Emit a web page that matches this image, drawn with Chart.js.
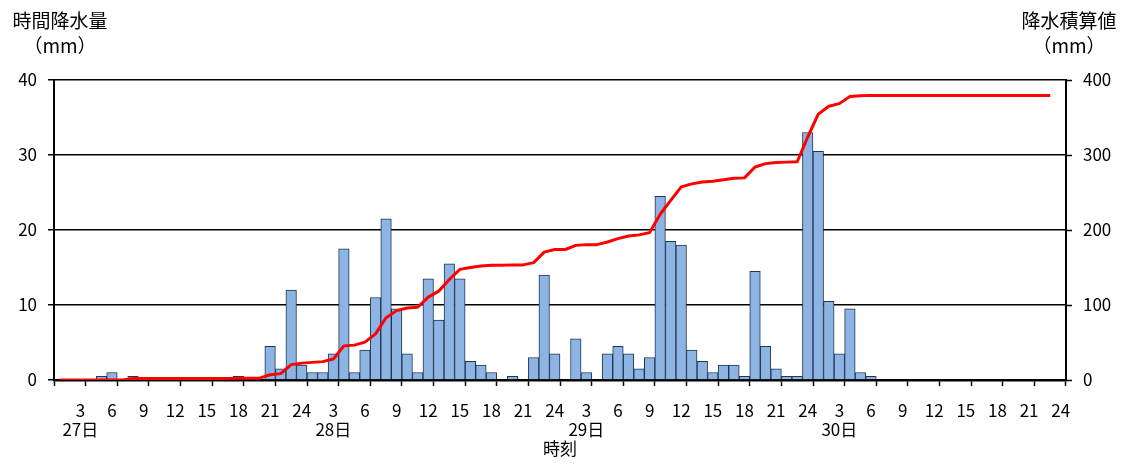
<!DOCTYPE html>
<html lang="ja">
<head>
<meta charset="utf-8">
<title>時間降水量と降水積算値</title>
<script src="https://cdn.jsdelivr.net/npm/chart.js@4"></script>
<style>
    body { margin: 0; background: #fff; }
    #wrap { width: 1126px; height: 464px; }
</style>
</head>
<body>
<div id="wrap"><canvas id="rain" width="1126" height="464"></canvas></div>
<script>
const FONT = '"Noto Sans CJK JP", "Noto Sans", sans-serif';

// 27日1時 〜 30日24時 の毎時データ
const days = ['27日', '28日', '29日', '30日'];
const hours = [1, 2, 3, 4, 5, 6, 7, 8, 9, 10, 11, 12, 13, 14, 15, 16, 17, 18, 19, 20, 21, 22, 23, 24];

// 時間降水量 (mm)
const hourlyRain = [
    0, 0, 0, 0, 0.5, 1, 0, 0.5, 0, 0, 0, 0, 0, 0, 0, 0, 0, 0.5, 0, 0, 4.5, 1.5, 12, 2,
    1, 1, 3.5, 17.5, 1, 4, 11, 21.5, 9.5, 3.5, 1, 13.5, 8, 15.5, 13.5, 2.5, 2, 1, 0, 0.5, 0, 3, 14, 3.5,
    0, 5.5, 1, 0, 3.5, 4.5, 3.5, 1.5, 3, 24.5, 18.5, 18, 4, 2.5, 1, 2, 2, 0.5, 14.5, 4.5, 1.5, 0.5, 0.5, 33,
    30.5, 10.5, 3.5, 9.5, 1, 0.5, 0, 0, 0, 0, 0, 0, 0, 0, 0, 0, 0, 0, 0, 0, 0, 0, 0, 0
];

// 降水積算値 (mm)
const totalRain = [
    0, 0, 0, 0, 0, 0, 0, 2, 2, 2, 2, 2, 2, 2, 2, 2, 2, 2.5, 2.5, 2.5, 7, 8.5, 20.5, 22.5,
    23.5, 24.5, 28, 45.5, 46.5, 50.5, 61.5, 83, 92.5, 96, 97, 110.5, 118.5, 134, 147.5, 150, 152, 153, 153, 153.5, 153.5, 156.5, 170.5, 174,
    174, 179.5, 180.5, 180.5, 184, 188.5, 192, 193.5, 196.5, 221, 239.5, 257.5, 261.5, 264, 265, 267, 269, 269.5, 284, 288.5, 290, 290.5, 291, 324,
    354.5, 365, 368.5, 378, 379, 379.5, 379.5, 379.5, 379.5, 379.5, 379.5, 379.5, 379.5, 379.5, 379.5, 379.5, 379.5, 379.5, 379.5, 379.5, 379.5, 379.5, 379.5, null
];

const leftTicks = [0, 10, 20, 30, 40];
const rightTicks = [0, 100, 200, 300, 400];

const labels = days.flatMap(d => hours.map(h => d + h + '時'));

// 軸の上に置く見出し
const axisHeads = {
    id: 'axisHeads',
    afterDraw(chart) {
        const ctx = chart.ctx;
        ctx.save();
        ctx.fillStyle = '#000';
        ctx.font = '19px ' + FONT;
        ctx.textAlign = 'center';
        ctx.textBaseline = 'middle';
        ctx.fillText('時間降水量', 60, 21);
        ctx.fillText('（mm）', 60, 46);
        ctx.fillText('降水積算値', 1069, 21);
        ctx.fillText('（mm）', 1069, 46);
        ctx.restore();
    }
};

function hourTick(value, index) {
    const h = hours[index % 24];
    if (h % 3 !== 0) return '';
    if (h === 3) return [String(h), days[Math.floor(index / 24)]];
    return String(h);
}

function every3(ctx) {
    if (ctx.index === undefined) return '#000';
    return ctx.index % 3 === 0 ? '#000' : 'rgba(0,0,0,0)';
}

function displayChart() {
    const ctx = document.getElementById('rain').getContext('2d');
    new Chart(ctx, {
        type: 'bar',
        data: {
            labels: labels,
            datasets: [{
                type: 'line',
                label: '降水積算値',
                data: totalRain,
                yAxisID: 'y2',
                borderColor: '#ff0000',
                borderWidth: 3,
                pointRadius: 0,
                tension: 0,
                borderJoinStyle: 'round',
                order: 0
            }, {
                label: '時間降水量',
                data: hourlyRain,
                yAxisID: 'y',
                backgroundColor: '#8db4e2',
                borderColor: '#1f3552',
                borderWidth: 1,
                barPercentage: 1,
                categoryPercentage: 1,
                order: 1
            }]
        },
        options: {
            responsive: false,
            animation: false,
            layout: { padding: { top: 80, left: 0, right: 0, bottom: 0 } },
            plugins: {
                legend: { display: false },
                tooltip: { enabled: false }
            },
            scales: {
                x: {
                    offset: true,
                    grid: {
                        offset: true,
                        drawOnChartArea: false,
                        tickLength: 6,
                        color: every3,
                        tickColor: every3,
                        tickWidth: 1.5
                    },
                    border: { display: true, color: '#000', width: 2.5 },
                    ticks: {
                        autoSkip: false,
                        maxRotation: 0,
                        padding: 15,
                        color: '#000',
                        font: { family: FONT, size: 17, lineHeight: 1.12 },
                        callback: hourTick
                    },
                    title: {
                        display: true,
                        text: '時刻',
                        color: '#000',
                        font: { family: FONT, size: 17, lineHeight: 1.12 },
                        padding: { top: 0, bottom: 6 }
                    },
                    afterFit(scale) { scale.height = 84; }
                },
                y: {
                    position: 'left',
                    min: 0,
                    max: 40,
                    afterBuildTicks(scale) { scale.ticks = leftTicks.map(v => ({ value: v })); },
                    grid: {
                        color: '#000',
                        lineWidth: 1.5,
                        tickLength: 6,
                        tickColor: '#000',
                        tickWidth: 1.5
                    },
                    border: { display: true, color: '#000', width: 2 },
                    ticks: {
                        padding: 11,
                        color: '#000',
                        font: { family: FONT, size: 17 }
                    },
                    afterFit(scale) { scale.width = 54; }
                },
                y2: {
                    position: 'right',
                    min: 0,
                    max: 400,
                    afterBuildTicks(scale) { scale.ticks = rightTicks.map(v => ({ value: v })); },
                    grid: {
                        drawOnChartArea: false,
                        tickLength: 6,
                        color: '#000',
                        tickColor: '#000',
                        tickWidth: 1.5
                    },
                    border: { display: true, color: '#000', width: 2 },
                    ticks: {
                        padding: 11,
                        color: '#000',
                        font: { family: FONT, size: 17 }
                    },
                    afterFit(scale) { scale.width = 60; }
                }
            }
        },
        plugins: [axisHeads]
    });
}

function main() {
    displayChart();
}
main();
</script>
</body>
</html>
